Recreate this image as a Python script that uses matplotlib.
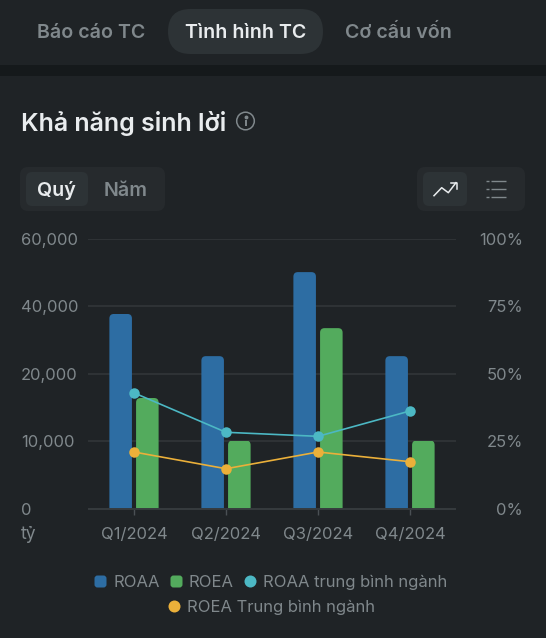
import numpy as np
import matplotlib
matplotlib.use("Agg")
import matplotlib.pyplot as plt
from matplotlib.patches import FancyBboxPatch, Rectangle, Circle
from matplotlib.lines import Line2D
from matplotlib.transforms import IdentityTransform

plt.rcParams['font.family'] = ['Inter', 'DejaVu Sans']

quarters = ['Q1/2024', 'Q2/2024', 'Q3/2024', 'Q4/2024']
roaa = [37700, 25200, 50100, 25200]
roea = [16400, 10100, 33500, 10100]
roaa_avg = [42.9, 28.3, 26.8, 36.2]
roea_avg = [21.0, 14.8, 21.0, 17.4]
left_ticks = [0, 10000, 20000, 40000, 60000]
left_labels = ['0', '10,000', '20,000', '40,000', '60,000']
right_ticks = [0, 25, 50, 75, 100]
right_labels = ['0%', '25%', '50%', '75%', '100%']
tabs = ['Báo cáo TC', 'Tình hình TC', 'Cơ cấu vốn']
title = 'Khả năng sinh lời'
periods = ['Quý', 'Năm']
unit = 'tỷ'
series_names = ['ROAA', 'ROEA', 'ROAA trung bình ngành', 'ROEA Trung bình ngành']

BG = '#1f2326'
BAND = '#15191b'
PILL = '#2d3336'
CONTAINER = '#262a2d'
GRID = '#2f3336'
AXIS = '#363b3e'
MUTED = '#80888c'
WHITE = '#e9ecee'
BLUE = '#2d6da3'
GREEN = '#53ab5d'
CYAN = '#4cb8c4'
ORANGE = '#ebb03a'
PX = 0.72

W, H = 546, 638
fig = plt.figure(figsize=(W / 100, H / 100), dpi=100, facecolor=BG)

ui = fig.add_axes([0, 0, 1, 1], zorder=0)
ui.set_xlim(0, W)
ui.set_ylim(H, 0)
ui.axis('off')


def rbox(x0, y0, x1, y1, r, color):
    ui.add_patch(FancyBboxPatch((x0, y0), x1 - x0, y1 - y0,
                                boxstyle=f'round,pad=0,rounding_size={r}',
                                fc=color, ec='none'))


ui.add_patch(Rectangle((0, 65), W, 11, fc=BAND, ec='none'))
rbox(168, 9, 323, 54, 22.5, PILL)
for t, cx, c in zip(tabs, [91, 245.5, 398.5], [MUTED, WHITE, MUTED]):
    ui.text(cx, 33, t, color=c, fontsize=19.6 * PX, fontweight='semibold', ha='center', va='center')

ui.text(21, 123.5, title, color=WHITE, fontsize=25 * PX, fontweight='semibold', ha='left', va='center')
ui.add_patch(Circle((245.5, 121), 8.8, fc='none', ec=MUTED, lw=1.1))
ui.plot([245.5, 245.5], [119.5, 126], color=MUTED, lw=1.4, solid_capstyle='butt')
ui.plot([245.5], [116.5], 'o', color=MUTED, ms=1.8)

rbox(20, 167, 165, 211, 8, CONTAINER)
rbox(26, 172, 88, 206, 6, PILL)
for t, cx, c in zip(periods, [56.5, 126], [WHITE, MUTED]):
    ui.text(cx, 190.5, t, color=c, fontsize=19.6 * PX, fontweight='semibold', ha='center', va='center')

rbox(417, 167, 525, 211, 8, CONTAINER)
rbox(423, 172, 467, 206, 6, PILL)
ui.plot([434, 441.7, 448.3, 456], [195.7, 187.7, 192.7, 182.7], color=WHITE, lw=1.1)
ui.plot([450.5, 456.5, 456.5], [182.5, 182.5, 188.5], color=WHITE, lw=1.1)
for y in [181, 189, 196.7]:
    ui.plot([486, 488.5], [y, y], color=MUTED, lw=1.0, solid_capstyle='butt')
    ui.plot([491, 505.5], [y, y], color=MUTED, lw=1.0, solid_capstyle='butt')

ui.text(21, 534.5, unit, color=MUTED, fontsize=17.5 * PX, ha='left', va='center')

# Chart
ax = fig.add_axes([88 / W, 1 - 508.7 / H, 368 / W, 270 / H], zorder=1)
ax.patch.set_visible(False)
pos = np.arange(len(left_ticks), dtype=float)
ax.set_yscale('function', functions=(lambda v: np.interp(v, left_ticks, pos),
                                     lambda p: np.interp(p, pos, left_ticks)))
ax.set_ylim(0, 60000)
ax.set_xlim(-0.5, 3.5)
x = np.arange(len(quarters))
bw, off = 0.245, 0.145
bars1 = ax.bar(x - off, roaa, bw, color=BLUE, zorder=2)
bars2 = ax.bar(x + off, roea, bw, color=GREEN, zorder=2)
ax.set_yticks(left_ticks, left_labels)
ax.minorticks_off()
ax.set_xticks(x, quarters)
ax.yaxis.grid(True, color=GRID, lw=1.4)
ax.set_axisbelow(True)
for s in ['top', 'left', 'right']:
    ax.spines[s].set_visible(False)
ax.spines['bottom'].set_color(AXIS)
ax.spines['bottom'].set_linewidth(1.4)
ax.spines['bottom'].set_capstyle('butt')
ax.tick_params(axis='x', colors='#4a5054', length=6 * PX, width=1, labelcolor=MUTED,
               labelsize=16.6 * PX, pad=12.5 * PX)
ax.tick_params(axis='y', length=0, labelcolor=MUTED, labelsize=16.6 * PX, pad=67 * PX)
for lb in ax.get_yticklabels():
    lb.set_ha('left')
    lb.set_va('center_baseline')

ax2 = ax.twinx()
ax2.set_zorder(2)
ax2.patch.set_visible(False)
ax2.set_ylim(0, 100)
ax2.set_yticks(right_ticks, right_labels)
ax2.tick_params(axis='y', length=0, labelcolor=MUTED, labelsize=16.6 * PX, pad=67 * PX)
for lb in ax2.get_yticklabels():
    lb.set_ha('right')
    lb.set_va('center_baseline')
for s in ax2.spines.values():
    s.set_visible(False)
ax2.plot(x, roaa_avg, color=CYAN, lw=1.5 * PX * 1.1, marker='o', ms=10.5 * PX, mew=0)
ax2.plot(x, roea_avg, color=ORANGE, lw=1.5 * PX * 1.1, marker='o', ms=10.5 * PX, mew=0)

# Rounded bar tops
fig.canvas.draw()
for b in list(bars1) + list(bars2):
    e = b.get_window_extent()
    clip = FancyBboxPatch((e.x0, e.y0 - 10), e.width, e.height + 10,
                          boxstyle='round,pad=0,rounding_size=4.5',
                          transform=IdentityTransform())
    b.set_clip_path(clip)

# Legends
verts = FancyBboxPatch((-0.5, -0.5), 1, 1, boxstyle='round,pad=0,rounding_size=0.25').get_path()
h_blue = Line2D([], [], ls='none', marker=verts, ms=12 * PX, color=BLUE, mew=0)
h_green = Line2D([], [], ls='none', marker=verts, ms=12 * PX, color=GREEN, mew=0)
h_cyan = Line2D([], [], ls='none', marker='o', ms=12 * PX, color=CYAN, mew=0)
h_orange = Line2D([], [], ls='none', marker='o', ms=12 * PX, color=ORANGE, mew=0)
opts = dict(loc='center', frameon=False, fontsize=16.6 * PX, labelcolor=MUTED, handlelength=0.75,
            handletextpad=0.4, borderpad=0, borderaxespad=0)
fig.legend([h_blue, h_green, h_cyan], series_names[:3], ncol=3, columnspacing=0.6,
           bbox_to_anchor=(270.5 / W, 1 - 582 / H), **opts)
fig.legend([h_orange], series_names[3:], bbox_to_anchor=(271 / W, 1 - 607.5 / H), **opts)

fig.savefig('out.png', dpi=100, facecolor=BG)
